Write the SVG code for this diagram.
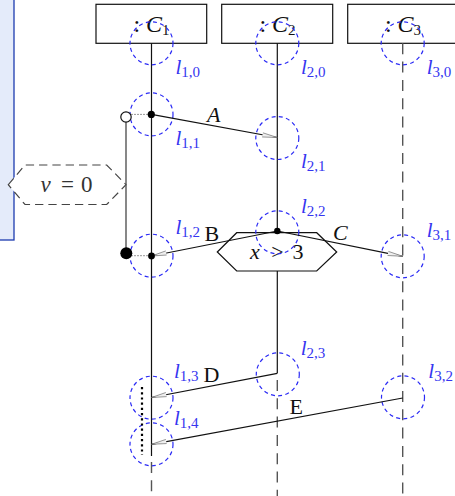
<svg xmlns="http://www.w3.org/2000/svg" width="455" height="496" viewBox="0 0 455 496">
<style>
text{font-family:"Liberation Serif","DejaVu Serif",serif;font-size:22px;fill:#111}
.it{font-style:italic}
.sub{font-size:15px}
.bl{font-size:24px}
.lb{fill:#3535f0;font-size:21px}
.box{fill:#fff;stroke:#111;stroke-width:1.2}
.life{stroke:#111;stroke-width:1.2;fill:none}
.dlife{stroke:#555;stroke-width:1.4;stroke-dasharray:11 7.3;fill:none}
.loc{fill:none;stroke:#2a2af5;stroke-width:1.2;stroke-dasharray:4 3.3}
.msg{stroke:#111;stroke-width:1.2;fill:none;marker-end:url(#ah)}
.dot{fill:#000}
.g{fill:#333}
</style>
<defs>
<marker id="ah" markerUnits="userSpaceOnUse" markerWidth="18" markerHeight="8" viewBox="-16 -4 18 8" refX="0" refY="0" orient="auto">
<path d="M-15,-2 L0,0 L-15,2.2" fill="#eee" stroke="#777" stroke-width="0.7"/>
</marker>
</defs>
<rect id="panel" x="-2" y="-2" width="16" height="242" fill="#e4ebfa" stroke="#1d3bb0" stroke-width="1.3"/>
<g id="state-v0">
<polygon points="8.3,184.7 25,165 106.7,165 126,184.7 106.7,204.5 25,204.5" fill="#fff" stroke="#444" stroke-width="1.2" stroke-dasharray="8.3 5"/>
<text x="40.5" y="191.5" class="it g" style="font-size:23px">v</text>
<text x="67.5" y="191.5" text-anchor="middle" class="g" style="font-size:23px">=</text>
<text x="81" y="191.5" class="g" style="font-size:23px">0</text>
</g>
<g id="C1">
<rect class="box" x="96" y="4.3" width="110.7" height="39"/>
<text x="151.5" y="32" text-anchor="middle" class="bl">: <tspan class="it">C</tspan><tspan class="sub" dy="3">1</tspan></text>
</g>
<g id="C2">
<rect class="box" x="221.7" y="4.3" width="111" height="39"/>
<text x="277.5" y="32" text-anchor="middle" class="bl">: <tspan class="it">C</tspan><tspan class="sub" dy="3">2</tspan></text>
</g>
<g id="C3">
<rect class="box" x="347.7" y="4.3" width="111" height="39"/>
<text x="403" y="32" text-anchor="middle" class="bl">: <tspan class="it">C</tspan><tspan class="sub" dy="3">3</tspan></text>
</g>
<g id="lifelines">
<line class="life" x1="151.5" y1="43.3" x2="151.5" y2="456"/>
<line class="dlife" x1="151.5" y1="462" x2="151.5" y2="496"/>
<line class="life" x1="277.3" y1="43.3" x2="277.3" y2="373.3"/>
<line class="dlife" x1="277.3" y1="380" x2="277.3" y2="496"/>
<line class="dlife" x1="402.7" y1="43.3" x2="402.7" y2="496"/>
</g>
<g id="guard-x3">
<polygon points="217.3,252 236.7,232.7 316.7,232.7 336.7,252 316.7,271 236.7,271" fill="#fff" stroke="#111" stroke-width="1.2"/>
<text x="250" y="259" class="it">x</text>
<text x="277.5" y="259" text-anchor="middle">&gt;</text>
<text x="292.5" y="259">3</text>
</g>
<g id="locations">
<circle class="loc" cx="151.5" cy="43.3" r="21.5"/>
<circle class="loc" cx="151.5" cy="114.4" r="21.5"/>
<circle class="loc" cx="151.5" cy="255.7" r="21.5"/>
<circle class="loc" cx="151.5" cy="397.7" r="21.5"/>
<circle class="loc" cx="151.5" cy="444.3" r="21.5"/>
<circle class="loc" cx="277.3" cy="43.3" r="21.5"/>
<circle class="loc" cx="277.3" cy="138" r="21.5"/>
<circle class="loc" cx="277.3" cy="232.3" r="21.5"/>
<circle class="loc" cx="277.8" cy="374.3" r="21.5"/>
<circle class="loc" cx="402.7" cy="43.3" r="21.5"/>
<circle class="loc" cx="402.7" cy="256.3" r="21.5"/>
<circle class="loc" cx="403" cy="397.3" r="21.5"/>
</g>
<g id="connectors">
<line class="msg" x1="151.5" y1="114.4" x2="277.3" y2="137.5"/>
<line class="msg" x1="277.3" y1="231" x2="151.5" y2="256"/>
<line class="msg" x1="277.3" y1="231" x2="402.7" y2="256.3"/>
<line class="msg" x1="277.3" y1="373.3" x2="151.5" y2="397.5"/>
<line class="msg" x1="402.7" y1="398" x2="151.5" y2="444.3"/>
<line x1="126" y1="122" x2="126" y2="248" stroke="#555" stroke-width="1.4"/>
<line x1="131.5" y1="114.4" x2="148" y2="114.4" stroke="#333" stroke-width="1" stroke-dasharray="1 2"/>
<line x1="131.5" y1="255.7" x2="148" y2="255.7" stroke="#333" stroke-width="1" stroke-dasharray="1 2"/>
<line x1="142" y1="387" x2="142" y2="455" stroke="#000" stroke-width="2.2" stroke-dasharray="2.2 3"/>
</g>
<g id="markers">
<circle cx="126" cy="117" r="5.2" fill="#fff" stroke="#111" stroke-width="1.2"/>
<circle cx="126.3" cy="253.3" r="6" fill="#000"/>
<circle class="dot" cx="151.3" cy="114.4" r="3.6"/>
<circle class="dot" cx="151.5" cy="255.9" r="3.4"/>
<circle class="dot" cx="277.3" cy="231" r="3.2"/>
</g>
<g id="message-labels">
<text x="207" y="122" class="it">A</text>
<text x="204.5" y="240.5">B</text>
<text x="333" y="240" class="it">C</text>
<text x="203.5" y="382">D</text>
<text x="289.5" y="413.5">E</text>
</g>
<g id="location-labels">
<text class="lb" x="175.5" y="74"><tspan class="it">l</tspan><tspan class="sub" dy="3">1,0</tspan></text>
<text class="lb" x="175.5" y="145"><tspan class="it">l</tspan><tspan class="sub" dy="3">1,1</tspan></text>
<text class="lb" x="175.5" y="233.5"><tspan class="it">l</tspan><tspan class="sub" dy="3">1,2</tspan></text>
<text class="lb" x="174" y="378.3"><tspan class="it">l</tspan><tspan class="sub" dy="3">1,3</tspan></text>
<text class="lb" x="174" y="425"><tspan class="it">l</tspan><tspan class="sub" dy="3">1,4</tspan></text>
<text class="lb" x="301" y="74"><tspan class="it">l</tspan><tspan class="sub" dy="3">2,0</tspan></text>
<text class="lb" x="301" y="168"><tspan class="it">l</tspan><tspan class="sub" dy="3">2,1</tspan></text>
<text class="lb" x="301" y="213.3"><tspan class="it">l</tspan><tspan class="sub" dy="3">2,2</tspan></text>
<text class="lb" x="300.7" y="355"><tspan class="it">l</tspan><tspan class="sub" dy="3">2,3</tspan></text>
<text class="lb" x="426.7" y="74"><tspan class="it">l</tspan><tspan class="sub" dy="3">3,0</tspan></text>
<text class="lb" x="426.7" y="236.7"><tspan class="it">l</tspan><tspan class="sub" dy="3">3,1</tspan></text>
<text class="lb" x="428.3" y="378.3"><tspan class="it">l</tspan><tspan class="sub" dy="3">3,2</tspan></text>
</g>
</svg>
